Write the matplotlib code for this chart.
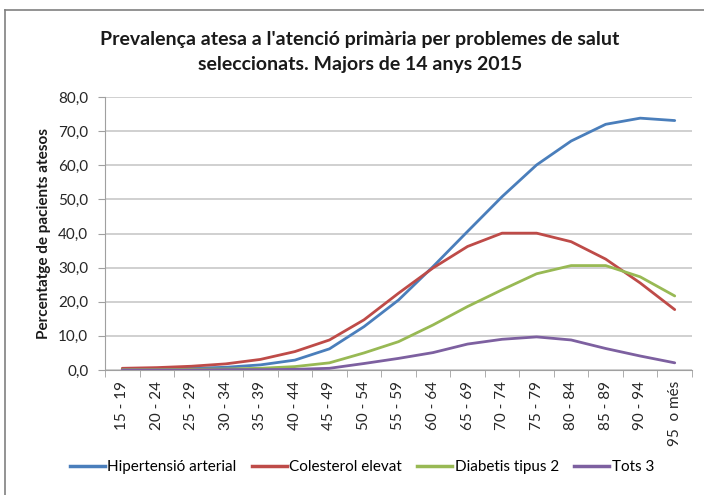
import matplotlib
matplotlib.use("Agg")
import matplotlib.pyplot as plt
from matplotlib.lines import Line2D
from matplotlib.ticker import FuncFormatter, FixedLocator
import numpy as np

plt.rcParams['font.family'] = ['Lato', 'DejaVu Sans']

categories = ["15 - 19", "20 - 24", "25 - 29", "30 - 34", "35 - 39", "40 - 44", "45 - 49",
              "50 - 54", "55 - 59", "60 - 64", "65 - 69", "70 - 74", "75 - 79", "80 - 84",
              "85 - 89", "90 - 94", "95  o més"]
hipertensio = [0.2, 0.3, 0.5, 0.8, 1.5, 2.9, 6.2, 12.7, 20.5, 30.3, 40.6, 50.8, 60.1, 67.1, 72.0, 73.8, 73.1]
colesterol = [0.5, 0.7, 1.1, 1.8, 3.1, 5.4, 8.8, 14.7, 22.5, 29.9, 36.2, 40.1, 40.1, 37.6, 32.5, 25.5, 17.7]
diabetis = [0.1, 0.1, 0.2, 0.3, 0.5, 1.0, 2.1, 5.0, 8.3, 13.2, 18.6, 23.5, 28.2, 30.6, 30.6, 27.3, 21.7]
tots3 = [0.0, 0.0, 0.0, 0.1, 0.1, 0.2, 0.5, 1.9, 3.4, 5.1, 7.6, 9.0, 9.7, 8.8, 6.3, 4.1, 2.1]

series_names = ["Hipertensió arterial", "Colesterol elevat", "Diabetis tipus 2", "Tots 3"]
colors = ["#4A7EBB", "#BE4B48", "#98B954", "#7D60A0"]
title = "Prevalença atesa a l'atenció primària per problemes de salut\nseleccionats. Majors de 14 anys 2015"
ylabel = "Percentatge de pacients atesos"

fig = plt.figure(figsize=(7.04, 4.95), dpi=100)
ax = fig.add_axes([105/704, 1-370/495, (692-105)/704, (370-97)/495])

x = np.arange(len(categories))
for vals, c in zip([hipertensio, colesterol, diabetis, tots3], colors):
    ax.plot(x, vals, color=c, lw=2.0, solid_capstyle='round', zorder=3)

ax.set_xlim(-0.5, len(categories) - 0.5)
ax.set_ylim(0, 80)
ax.set_yticks(np.arange(0, 81, 10))
ax.yaxis.set_major_formatter(FuncFormatter(lambda v, p: f"{v:.1f}".replace('.', ',')))
ax.set_xticks(x)
ax.set_xticklabels(categories, rotation=90, fontsize=11, color='#262626')
ax.xaxis.set_minor_locator(FixedLocator(np.arange(-0.5, len(categories), 1)))
ax.tick_params(axis='x', which='major', length=0, pad=8)
ax.tick_params(axis='x', which='minor', length=5, color='#A0A0A0', direction='out')
ax.tick_params(axis='y', length=5, color='#A0A0A0', labelsize=11, labelcolor='#262626', pad=7)
ax.grid(axis='y', color='#C8C8C8', lw=1.2, zorder=0)
for s in ['top', 'right']:
    ax.spines[s].set_visible(False)
ax.spines['left'].set_color('#A0A0A0')
ax.spines['bottom'].set_color('#A0A0A0')
ax.set_ylabel(ylabel, fontsize=11, fontweight='bold', color='#1a1a1a', labelpad=5)

fig.text(360/704, 1-52/495, title, ha='center', va='center', fontsize=14, fontweight='bold',
         color='#1a1a1a', linespacing=1.55)

handles = [Line2D([0], [0], color=c, lw=2.5) for c in colors]
fig.legend(handles, series_names, loc='center', bbox_to_anchor=(362/704, 1-467/495), ncol=4,
           frameon=False, fontsize=11, handlelength=2.3, handletextpad=0.15, columnspacing=1.0)

# outer border lines (top and left)
fig.add_artist(Line2D([5/704, 1], [1-10/495, 1-10/495], color='#808080', lw=1.2, transform=fig.transFigure))
fig.add_artist(Line2D([5/704, 5/704], [0, 1-10/495], color='#808080', lw=1.2, transform=fig.transFigure))

fig.savefig("out.png", dpi=100)
